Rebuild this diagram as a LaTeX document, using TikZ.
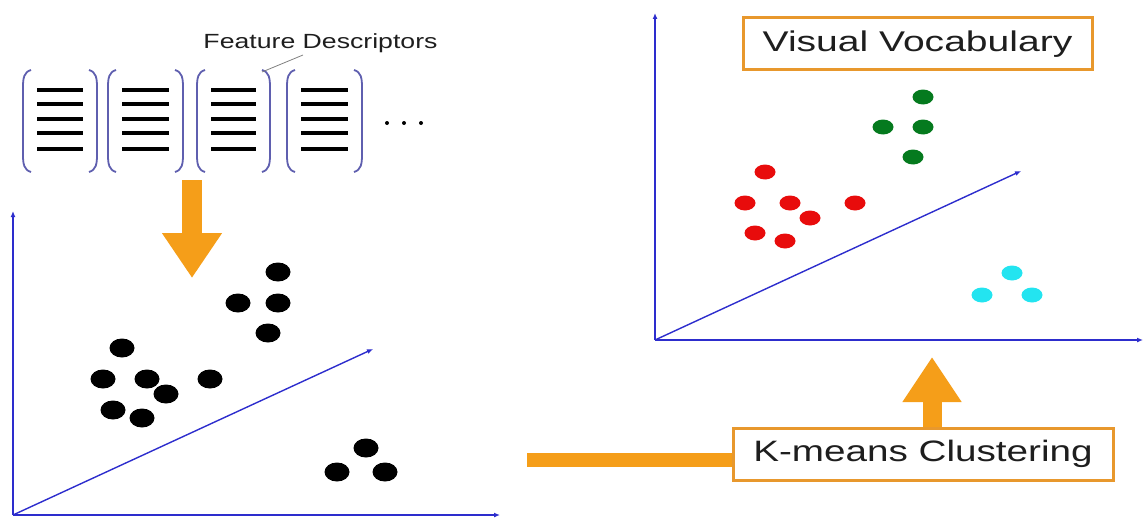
\documentclass[tikz,border=0pt]{standalone}
\usepackage{fontspec}
\usepackage{graphicx}
\setmainfont{Liberation Sans}
\usetikzlibrary{arrows.meta}
\definecolor{korange}{RGB}{245,158,25}
\definecolor{kbox}{RGB}{232,152,45}
\definecolor{kaxis}{RGB}{45,45,205}
\definecolor{kbrack}{RGB}{95,95,175}
\definecolor{kred}{RGB}{232,12,12}
\definecolor{kgreen}{RGB}{5,122,30}
\definecolor{kcyan}{RGB}{35,228,240}
\definecolor{ktext}{RGB}{30,30,30}
\begin{document}
\begin{tikzpicture}[x=1pt,y=-1pt,
  axisline/.style={draw=kaxis,line width=1.4pt,-{Latex[length=6pt,width=5pt]}},
  brack/.style={draw=kbrack,line width=1.8pt},
  descline/.style={draw=black,line width=3.6pt},
  labelbox/.style={draw=kbox,line width=3pt,fill=white,inner sep=0pt,text=ktext},
  bigarrow/.style={draw=korange,line width=#1},
  bdot/.style={fill=black},
]
\useasboundingbox (0,0) rectangle (1143,519);

% ---------- descriptors ----------
\foreach \L/\R in {23/97,108/183,197/270,287/362}{
  \draw[brack] ({\L+8},70) .. controls ({\L+1},72) and (\L,78) .. (\L,87) -- (\L,155) .. controls (\L,164) and ({\L+1},170) .. ({\L+8},172);
  \draw[brack] ({\R-8},70) .. controls ({\R-1},72) and (\R,78) .. (\R,87) -- (\R,155) .. controls (\R,164) and ({\R-1},170) .. ({\R-8},172);
  \foreach \y in {90,104,119,133,149}{
    \draw[descline] ({\L+14},\y) -- ({\R-14},\y);
  }
}
\foreach \x in {387,404,421}{ \fill (\x,123) circle (2pt); }

\node[text=ktext,inner sep=0pt] (fd) at (320.5,43) {\fontsize{20.5}{20.5}\selectfont\scalebox{1.3}[1]{Feature Descriptors}};
\coordinate (fdl) at (303,55);
\coordinate (br3) at (262,72);
\draw[gray,line width=0.8pt] (fdl) -- (br3);

% ---------- orange arrow down ----------
\coordinate (dA) at (192,180);
\coordinate (dB) at (192,278);
\draw[bigarrow=20pt,-{Triangle[length=45pt,width=57pt]}] (dA) -- (dB);

% ---------- left plot ----------
\coordinate (lo) at (13,515);
\coordinate (ly) at (13,211);
\coordinate (lx) at (500,515);
\coordinate (ld) at (373,349);
\draw[axisline] (lo) -- (ly);
\draw[axisline] (lo) -- (lx);
\draw[axisline] (lo) -- (ld);
\foreach \p in {(278,272),(238,303),(278,303),(268,333),(122,348),(103,379),(147,379),(210,379),(166,394),(113,410),(142,418),(366,448),(337,472),(385,472)}{
  \fill[bdot] \p ellipse [x radius=12.5pt, y radius=9.5pt];
}

% ---------- right plot ----------
\coordinate (ro) at (655,340);
\coordinate (ry) at (655,13);
\coordinate (rx) at (1143,340);
\coordinate (rd) at (1021,171);
\draw[axisline] (ro) -- (ry);
\draw[axisline] (ro) -- (rx);
\draw[axisline] (ro) -- (rd);
\foreach \p in {(923,97),(883,127),(923,127),(913,157)}{
  \fill[kgreen] \p ellipse [x radius=10.5pt, y radius=7.5pt];
}
\foreach \p in {(765,172),(745,203),(790,203),(855,203),(810,218),(755,233),(785,241)}{
  \fill[kred] \p ellipse [x radius=10.5pt, y radius=7.5pt];
}
\foreach \p in {(1012,273),(982,295),(1032,295)}{
  \fill[kcyan] \p ellipse [x radius=10.5pt, y radius=7.5pt];
}

\node[labelbox,minimum width=349pt,minimum height=52pt] (vv) at (917.5,44)
  {\fontsize{28.5}{28.5}\selectfont\scalebox{1.37}[1]{Visual Vocabulary}};

% ---------- k-means ----------
\node[labelbox,minimum width=380pt,minimum height=52pt] (km) at (923,454)
  {\fontsize{29.5}{29.5}\selectfont\scalebox{1.31}[1]{K-means Clustering}};

\coordinate (hA) at (527,460);
\draw[bigarrow=14pt] (hA) -- (hA -| km.west);

\coordinate (uB) at (932,357);
\draw[bigarrow=19pt,-{Triangle[length=45pt,width=56pt]}] (km.north -| uB) -- (uB);
\end{tikzpicture}
\end{document}
